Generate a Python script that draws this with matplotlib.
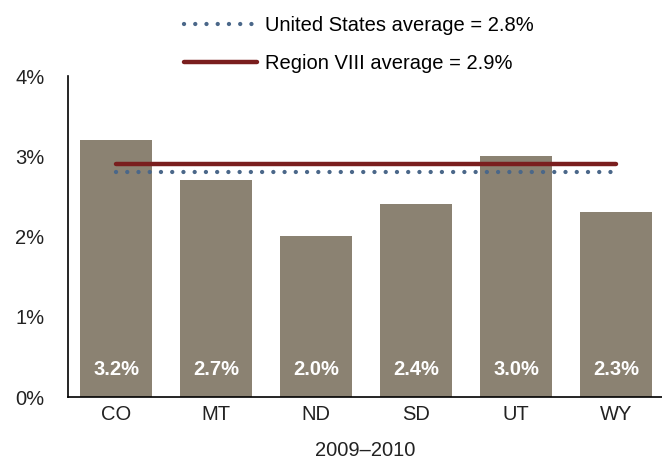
import matplotlib
matplotlib.use("Agg")
import matplotlib.pyplot as plt
from matplotlib.ticker import FuncFormatter

states = ["CO", "MT", "ND", "SD", "UT", "WY"]
values = [3.2, 2.7, 2.0, 2.4, 3.0, 2.3]
us_avg = 2.8
region_avg = 2.9
us_label = "United States average = 2.8%"
region_label = "Region VIII average = 2.9%"
xlabel = "2009\u20132010"

plt.rcParams['font.family'] = ['Liberation Sans', 'DejaVu Sans']
FS = 14.5

fig = plt.figure(figsize=(6.62, 4.65), dpi=100)
ax = fig.add_axes([68/662, 68/465, 1 - 68/662, (397-76)/465])

x = list(range(len(states)))
ax.bar(x, values, width=0.72, color="#8b8272", zorder=2)
for xi, v in zip(x, values):
    ax.text(xi, 0.34, f"{v:.1f}%", color="white", fontsize=FS, fontweight="bold",
            ha="center", va="center", zorder=4)

us_line, = ax.plot([x[0], x[-1]], [us_avg, us_avg], linestyle=(0, (0.01, 2.6)),
                   color="#4a6789", linewidth=3.1, dash_capstyle="round", zorder=3,
                   label=us_label)
reg_line, = ax.plot([x[0], x[-1]], [region_avg, region_avg], color="#7a1e1e",
                    linewidth=3.2, solid_capstyle="round", zorder=3, label=region_label)

ax.set_xlim(-0.48, 5.46)
ax.set_ylim(0, 4)
ax.set_yticks([0, 1, 2, 3, 4])
ax.yaxis.set_major_formatter(FuncFormatter(lambda v, p: f"{v:.0f}%"))
ax.set_xticks(x)
ax.set_xticklabels(states)
ax.tick_params(axis="both", length=0, labelsize=FS, colors="#222222")
ax.tick_params(axis="x", pad=6)
ax.tick_params(axis="y", pad=17)
ax.set_xlabel(xlabel, fontsize=FS, color="#222222", labelpad=12)
for s in ["top", "right"]:
    ax.spines[s].set_visible(False)
for s in ["left", "bottom"]:
    ax.spines[s].set_color("black")
    ax.spines[s].set_linewidth(1.2)

fig.legend(handles=[us_line, reg_line], loc="upper left",
           bbox_to_anchor=(166/662, 1.0 + 2/465), frameon=False, fontsize=FS,
           handlelength=3.6, handletextpad=0.4, labelspacing=0.95)

fig.savefig("out.png", dpi=100)
